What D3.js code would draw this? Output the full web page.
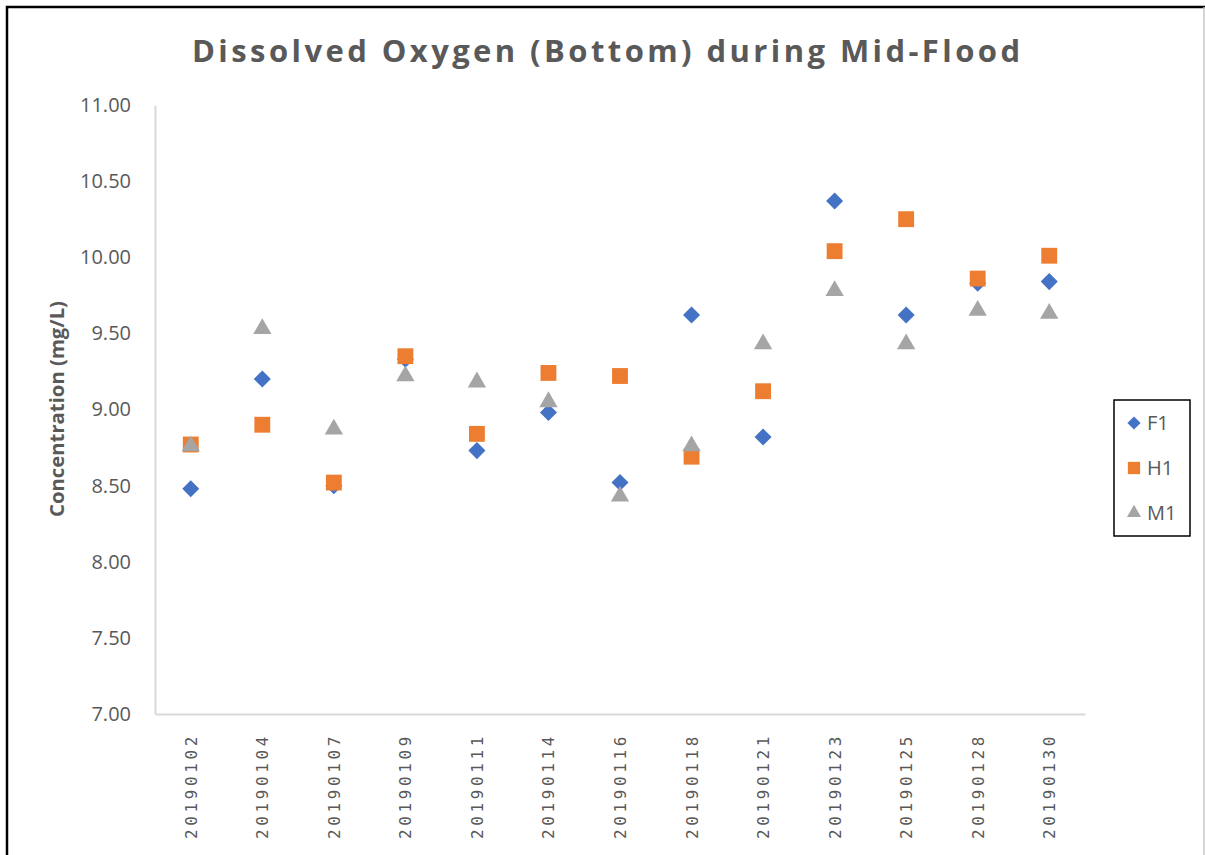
<!DOCTYPE html>
<html>
<head>
<meta charset="utf-8">
<script src="https://cdn.jsdelivr.net/npm/d3@7"></script>
<style>
  body { margin: 0; background: #fff; }
  svg { display: block; }
</style>
</head>
<body>
<svg id="chart" width="1205" height="855"></svg>
<script>
// Data

var dates = ["20190102", "20190104", "20190107", "20190109", "20190111", "20190114", "20190116",
             "20190118", "20190121", "20190123", "20190125", "20190128", "20190130"];
var f1 = [8.48, 9.20, 8.50, 9.33, 8.73, 8.98, 8.52, 9.62, 8.82, 10.37, 9.62, 9.83, 9.84];
var h1 = [8.77, 8.90, 8.52, 9.35, 8.84, 9.24, 9.22, 8.69, 9.12, 10.04, 10.25, 9.86, 10.01];
var m1 = [8.76, 9.53, 8.87, 9.22, 9.18, 9.05, 8.43, 8.76, 9.43, 9.78, 9.43, 9.65, 9.63];
var yTicks = [7.0, 7.5, 8.0, 8.5, 9.0, 9.5, 10.0, 10.5, 11.0];

var series = [
  { name: "F1", values: f1, color: "#4472c4", symbol: d3.symbolDiamond2, size: 185 },
  { name: "H1", values: h1, color: "#ed7d31", symbol: d3.symbolSquare2, size: 320 },
  { name: "M1", values: m1, color: "#a5a5a5", symbol: d3.symbolTriangle2, size: 240 }
];

var svg = d3.select("#chart");
var plot = { left: 155, right: 1085, top: 105, bottom: 714 };

var x = d3.scaleBand().domain(dates).range([plot.left, plot.right]);
var y = d3.scaleLinear().domain([7, 11]).range([plot.bottom, plot.top]);

// outer frame
svg.append("path")
  .attr("d", "M7,855 L7,7 L1205,7")
  .attr("fill", "none").attr("stroke", "#000").attr("stroke-width", 2.5);
svg.append("line")
  .attr("x1", 1204).attr("x2", 1204).attr("y1", 7).attr("y2", 855)
  .attr("stroke", "#c8c8c8").attr("stroke-width", 1.5);

// title
svg.append("text")
  .attr("x", 606).attr("y", 62)
  .attr("text-anchor", "middle")
  .attr("font-family", "Open Sans")
  .attr("font-weight", "bold")
  .attr("font-size", 31)
  .attr("fill", "#595959")
  .attr("textLength", 828)
  .attr("lengthAdjust", "spacing")
  .text("Dissolved Oxygen (Bottom) during Mid-Flood");

// y axis
var yAxis = svg.append("g")
  .attr("transform", "translate(" + plot.left + ",0)")
  .call(d3.axisLeft(y).tickValues(yTicks).tickSize(0).tickPadding(24)
        .tickFormat(d3.format(".2f")));
yAxis.select(".domain").attr("stroke", "#d9d9d9").attr("stroke-width", 2);
yAxis.selectAll("text")
  .attr("font-family", "Open Sans").attr("font-size", 20).attr("fill", "#595959");

// x axis
var xAxis = svg.append("g")
  .attr("transform", "translate(0," + plot.bottom + ")")
  .call(d3.axisBottom(x).tickSize(0).tickPadding(0));
xAxis.select(".domain").attr("stroke", "#d9d9d9").attr("stroke-width", 2);
xAxis.selectAll("text")
  .attr("font-family", "DejaVu Sans Mono")
  .attr("font-size", 16)
  .attr("letter-spacing", 3.6)
  .attr("fill", "#595959")
  .attr("text-anchor", "end")
  .attr("dy", null)
  .attr("transform", "translate(6,19) rotate(-90)");

// y axis title
svg.append("text")
  .attr("transform", "translate(64,409) rotate(-90)")
  .attr("text-anchor", "middle")
  .attr("font-family", "Open Sans")
  .attr("font-weight", "bold")
  .attr("font-size", 19)
  .attr("fill", "#595959")
  .attr("textLength", 216)
  .attr("lengthAdjust", "spacingAndGlyphs")
  .text("Concentration (mg/L)");

// markers
series.forEach(function (s) {
  svg.append("g")
    .selectAll("path")
    .data(s.values)
    .enter()
    .append("path")
    .attr("transform", function (d, i) {
      return "translate(" + (x(dates[i]) + x.bandwidth() / 2) + "," + y(d) + ")";
    })
    .attr("d", d3.symbol().type(s.symbol).size(s.size))
    .attr("fill", s.color);
});

// legend
var legend = svg.append("g");
legend.append("rect")
  .attr("x", 1114).attr("y", 400).attr("width", 76).attr("height", 136)
  .attr("fill", "#fff").attr("stroke", "#000").attr("stroke-width", 1.5);
var item = legend.selectAll("g.item")
  .data(series)
  .enter()
  .append("g")
  .attr("class", "item")
  .attr("transform", function (d, i) { return "translate(1134," + (423 + i * 45) + ")"; });
item.append("path")
  .attr("d", function (d) { return d3.symbol().type(d.symbol).size(d.size * 0.6)(); })
  .attr("fill", function (d) { return d.color; });
item.append("text")
  .attr("x", 13).attr("dy", "0.36em")
  .attr("font-family", "Open Sans").attr("font-size", 20).attr("fill", "#595959")
  .text(function (d) { return d.name; });
</script>
</body>
</html>
